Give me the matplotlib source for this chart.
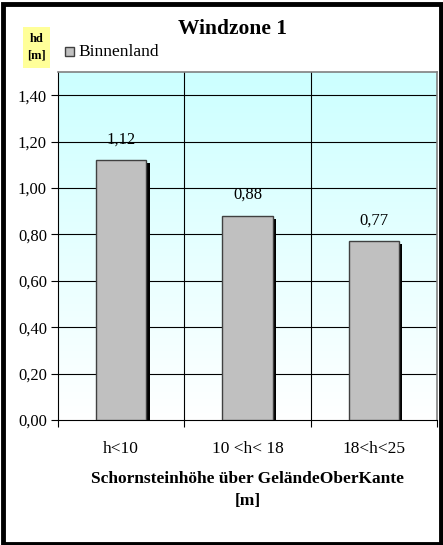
import numpy as np
import matplotlib.pyplot as plt
from matplotlib.patches import Rectangle

categories = ["h<10", "10 <h< 18", "18<h<25"]
values = [1.12, 0.88, 0.77]
value_labels = ["1,12", "0,88", "0,77"]
y_ticks = [0.0, 0.2, 0.4, 0.6, 0.8, 1.0, 1.2, 1.4]
y_tick_labels = ["0,00", "0,20", "0,40", "0,60", "0,80", "1,00", "1,20", "1,40"]

plt.rcParams["font.family"] = ["Liberation Serif", "DejaVu Serif"]

fig = plt.figure(figsize=(4.43, 5.45), dpi=100)
W, H = 443, 545

# plot area in pixels: left 58, right 437, top 72, bottom 420
ax = fig.add_axes([58 / W, 1 - 420 / H, (437 - 58) / W, (420 - 72) / H])

x = np.arange(len(categories))
ax.set_xlim(-0.5, 2.5)
ax.set_ylim(0, 1.5)

# gradient background cyan -> white
grad = np.linspace(0, 1, 256).reshape(-1, 1)
top_col = np.array([0.80, 1.0, 1.0])
bot_col = np.array([1.0, 1.0, 1.0])
img = bot_col + (top_col - bot_col) * grad[:, :, None] * np.ones((1, 1, 3))
ax.imshow(img, extent=[-0.5, 2.5, 0, 1.5], origin="lower", aspect="auto", zorder=0)

# grid
for yv in y_ticks[1:]:
    ax.axhline(yv, color="black", linewidth=0.8, zorder=1)
for xv in [0.5, 1.5]:
    ax.axvline(xv, color="black", linewidth=0.8, zorder=1)

bw = 0.4
# shadow
ax.bar(x + 0.025, np.array(values) - 0.013, width=bw, color="black", zorder=2)
ax.bar(x, values, width=bw, color="#C0C0C0", edgecolor="#404040",
       linewidth=1.0, zorder=3, label="Binnenland")

for xi, v, lab in zip(x, values, value_labels):
    ax.text(xi, v + 0.055, lab, ha="center", va="bottom", fontsize=12, zorder=4)

ax.set_yticks(y_ticks)
ax.set_yticklabels(y_tick_labels, fontsize=12)
ax.set_xticks([-0.5, 0.5, 1.5, 2.5])
ax.set_xticklabels([])
ax.set_xticks(x, minor=True)
ax.set_xticklabels(categories, minor=True, fontsize=12.5)
ax.tick_params(axis="x", which="minor", length=0, pad=15)
ax.tick_params(axis="x", which="major", length=5, direction="out", width=0.8)
ax.tick_params(axis="y", length=5, direction="out", width=0.8, pad=3)

for side in ["top", "right"]:
    ax.spines[side].set_color("#808080")
    ax.spines[side].set_linewidth(1.2)
ax.spines["left"].set_color("black")
ax.spines["bottom"].set_color("black")

ax.set_xlabel("Schornsteinhöhe über GeländeOberKante\n[m]", fontsize=12.5,
              fontweight="bold", labelpad=10, linespacing=1.5)

fig.text(232 / W, 1 - 29 / H, "Windzone 1", ha="center", va="center",
         fontsize=15.5, fontweight="bold")

# "hd [m]" label in yellow box
fig.patches.append(Rectangle((23 / W, 1 - 68 / H), 27 / W, 41 / H,
                             transform=fig.transFigure, facecolor="#FFFF99",
                             edgecolor="none"))
fig.text(36.5 / W, 1 - 47 / H, "hd\n[m]", ha="center", va="center",
         fontsize=9, fontweight="bold", linespacing=1.5)

# legend
fig.patches.append(Rectangle((65 / W, 1 - 56 / H), 9 / W, 9 / H,
                             transform=fig.transFigure, facecolor="#C0C0C0",
                             edgecolor="#404040", linewidth=1))
fig.text(78 / W, 1 - 52 / H, "Binnenland", ha="left", va="center", fontsize=12.5)

# outer frame
fig.patches.append(Rectangle((2.5 / W, 1.5 / H), (W - 5) / W, (H - 5) / H,
                             transform=fig.transFigure, facecolor="none",
                             edgecolor="black", linewidth=3.5))

fig.savefig("out.png", dpi=100)
